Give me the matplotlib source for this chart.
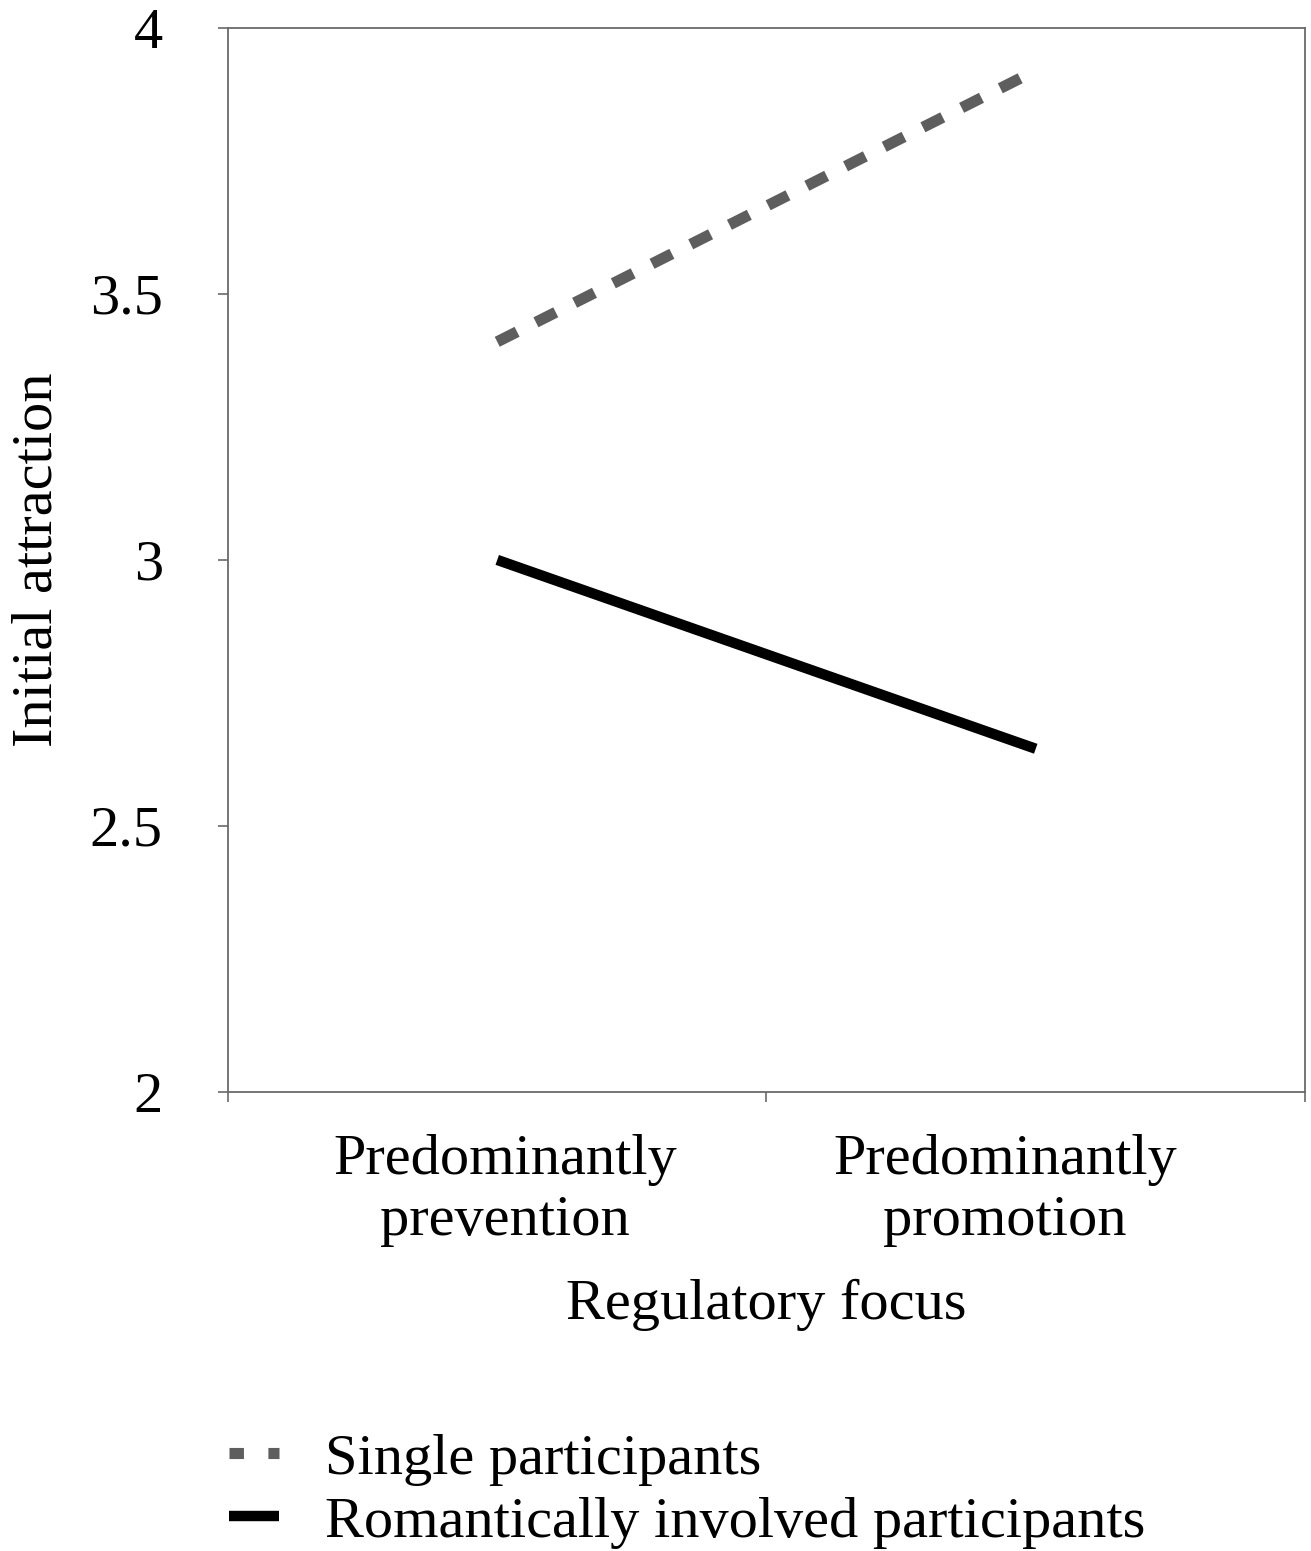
import numpy as np
import matplotlib.pyplot as plt
from matplotlib.lines import Line2D

plt.rcParams['font.family'] = ['Liberation Serif', 'DejaVu Serif']

categories = ['Predominantly\nprevention', 'Predominantly\npromotion']
single = [3.41, 3.92]
romantic = [3.00, 2.645]
yticks = [2, 2.5, 3, 3.5, 4]
ytick_labels = ['2', '2.5', '3', '3.5', '4']

fig = plt.figure(figsize=(13.11, 15.51), dpi=100)
ax = fig.add_axes([0.1739, 0.296, 0.9954 - 0.1739, 0.982 - 0.296])

x = np.arange(len(categories)) + 0.5
ax.plot(x, single, color='#5e5e5e', lw=8, linestyle=(0, (2.0, 1.9)),
        solid_capstyle='butt', dash_capstyle='butt')
ax.plot(x, romantic, color='black', lw=7.5, solid_capstyle='butt')

ax.set_xlim(0, 2)
ax.set_ylim(2, 4)
ax.set_yticks(yticks)
ax.set_yticklabels(ytick_labels)
ax.set_xticks([0, 1, 2])
ax.set_xticklabels([])
# category labels sit a little off the category centres in the original
ax.set_xticks(x + np.array([0.015, -0.057]), minor=True)
ax.set_xticklabels(categories, minor=True, linespacing=1.24)

for s in ax.spines.values():
    s.set_color('#6a6a6a')
    s.set_linewidth(1.3)
ax.tick_params(axis='both', which='major', length=7, width=1.2, color='#6a6a6a',
               labelsize=42, direction='out')
ax.tick_params(axis='y', pad=40)
ax.tick_params(axis='x', which='minor', length=0, labelsize=42, pad=30)

ax.set_ylabel('Initial attraction', fontsize=42, labelpad=19)
ax.set_xlabel('Regulatory focus', fontsize=42, labelpad=23)

handles = [
    Line2D([], [], color='#5e5e5e', lw=8, linestyle=(0, (1.3, 2.2)), dash_capstyle='butt'),
    Line2D([], [], color='black', lw=7.5, solid_capstyle='butt'),
]
fig.legend(handles, ['Single participants', 'Romantically involved participants'],
           loc='upper left', bbox_to_anchor=(0.1747, 1 - 1433 / 1551), frameon=False,
           fontsize=42, handlelength=0.86, handletextpad=0.79, labelspacing=0.17,
           borderpad=0, borderaxespad=0)

fig.savefig('out.png', dpi=100)
